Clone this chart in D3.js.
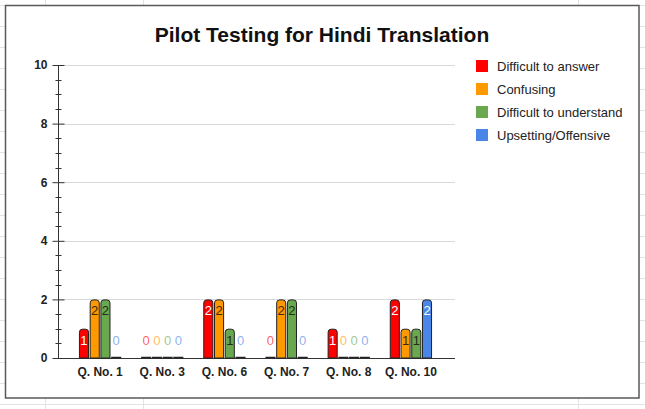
<!DOCTYPE html>
<html><head><meta charset="utf-8">
<script src="https://cdn.jsdelivr.net/npm/d3@7/dist/d3.min.js"></script>
<style>body{margin:0;background:#fff;}svg{display:block;font-family:"Liberation Sans",Arial,sans-serif;}</style>
</head><body>
<svg id="c" width="645" height="409"></svg>
<script>
const categories = ["Q. No. 1","Q. No. 3","Q. No. 6","Q. No. 7","Q. No. 8","Q. No. 10"];
const seriesNames = ["Difficult to answer","Confusing","Difficult to understand","Upsetting/Offensive"];
const seriesColors = ["#ff0000","#ff9900","#6aa84f","#4a86e8"];
const labelColors = ["#ffffff","#3a2a10","#1f2d18","#ffffff"];
const difficultToAnswer = [1,0,2,0,1,2];
const confusing = [2,0,2,2,0,1];
const difficultToUnderstand = [2,0,1,2,0,1];
const upsetting = [0,0,0,0,0,2];
const yTicks = [0,2,4,6,8,10];
const title = "Pilot Testing for Hindi Translation";

const values = [difficultToAnswer, confusing, difficultToUnderstand, upsetting];
const svg = d3.select("#c");

// spreadsheet background grid
const bg = svg.append("g");
[45,143,578].forEach(x=>bg.append("line").attr("x1",x+0.5).attr("x2",x+0.5).attr("y1",0).attr("y2",409).attr("stroke","#e3e3e3"));
for(let y=362-21*17;y<409;y+=21){ if(y<0) continue; bg.append("line").attr("x1",0).attr("x2",645).attr("y1",y+0.5).attr("y2",y+0.5).attr("stroke","#e3e3e3"); }
svg.append("rect").attr("x",5.5).attr("y",5.5).attr("width",633.5).attr("height",392.5).attr("fill","#fff").attr("stroke","#595959").attr("stroke-width",1.5);

svg.append("text").attr("x",322).attr("y",42).attr("text-anchor","middle").attr("font-size",21).attr("font-weight","bold").attr("fill","#111").text(title);

const y = d3.scaleLinear().domain([0,10]).range([358,65]);
const x = d3.scaleBand().domain(categories).range([69,442]).paddingInner(0.32).paddingOuter(0.16);
const xs = d3.scaleBand().domain(seriesNames).range([0,x.bandwidth()]).paddingInner(0.06);

// gridlines
svg.append("g").selectAll("line").data(yTicks.filter(d=>d>0)).join("line")
  .attr("x1",58).attr("x2",455).attr("y1",d=>Math.round(y(d))+0.5).attr("y2",d=>Math.round(y(d))+0.5).attr("stroke","#d9d9d9");

// y axis
const yAxis = d3.axisLeft(y).tickValues(yTicks).tickSize(6).tickPadding(5).tickFormat(d3.format("d"));
const ya = svg.append("g").attr("transform","translate(58.5,0)").call(yAxis);
ya.select(".domain").attr("stroke","#333").attr("d","M0,"+y(10)+"V"+y(0));
ya.selectAll(".tick line").attr("stroke","#333").attr("x1",6);
ya.selectAll(".tick text").attr("font-size",12).attr("font-weight","bold").attr("fill","#222").attr("font-family","Liberation Sans, Arial, sans-serif");
const minor = d3.range(0,10.01,0.5).filter(d=>d%2!==0);
ya.append("g").selectAll("line").data(minor).join("line")
  .attr("x1",-3).attr("x2",3).attr("y1",d=>Math.round(y(d))+0.5).attr("y2",d=>Math.round(y(d))+0.5).attr("stroke","#333");

// baseline
svg.append("line").attr("x1",58).attr("x2",455).attr("y1",y(0)+0.5).attr("y2",y(0)+0.5).attr("stroke","#333");

// bars
const flat = [];
categories.forEach((c,i)=>seriesNames.forEach((s,j)=>flat.push({c,s,j,v:values[j][i]})));
function barPath(x0,w,top,bottom,r){
  const h = bottom-top; r=Math.min(r,h,w/2);
  return `M${x0},${bottom}V${top+r}Q${x0},${top} ${x0+r},${top}H${x0+w-r}Q${x0+w},${top} ${x0+w},${top+r}V${bottom}Z`;
}
const gb = svg.append("g");
flat.forEach(d=>{
  const x0 = x(d.c)+xs(d.s), w = xs.bandwidth();
  if(d.v>0){
    gb.append("path").attr("d",barPath(x0+0.5,w-1,y(d.v)+0.5,y(0),3))
      .attr("fill",seriesColors[d.j]).attr("stroke","#222").attr("stroke-width",1);
    gb.append("text").attr("x",x0+w/2).attr("y",y(d.v)+16).attr("text-anchor","middle")
      .attr("font-size",13).attr("fill",labelColors[d.j]).text(d.v);
  } else {
    gb.append("line").attr("x1",x0).attr("x2",x0+w).attr("y1",y(0)-0.5).attr("y2",y(0)-0.5).attr("stroke","#222").attr("stroke-width",1.5);
    gb.append("text").attr("x",x0+w/2).attr("y",y(0)-13).attr("text-anchor","middle")
      .attr("font-size",13).attr("fill",seriesColors[d.j]).attr("fill-opacity",0.65).text(d.v);
  }
});

// x labels
const xa = svg.append("g").attr("transform","translate(0,358)").call(d3.axisBottom(x).tickSize(0).tickPadding(9));
xa.select(".domain").remove();
xa.selectAll("text").attr("font-size",12).attr("font-weight","bold").attr("fill","#222").attr("font-family","Liberation Sans, Arial, sans-serif");

// legend
const lg = svg.append("g");
seriesNames.forEach((s,i)=>{
  const cy = 66+i*23;
  lg.append("rect").attr("x",476).attr("y",cy-6).attr("width",12).attr("height",12).attr("fill",seriesColors[i]);
  lg.append("text").attr("x",497).attr("y",cy+4.5).attr("font-size",13).attr("fill","#222").text(s);
});
</script>
</body></html>
